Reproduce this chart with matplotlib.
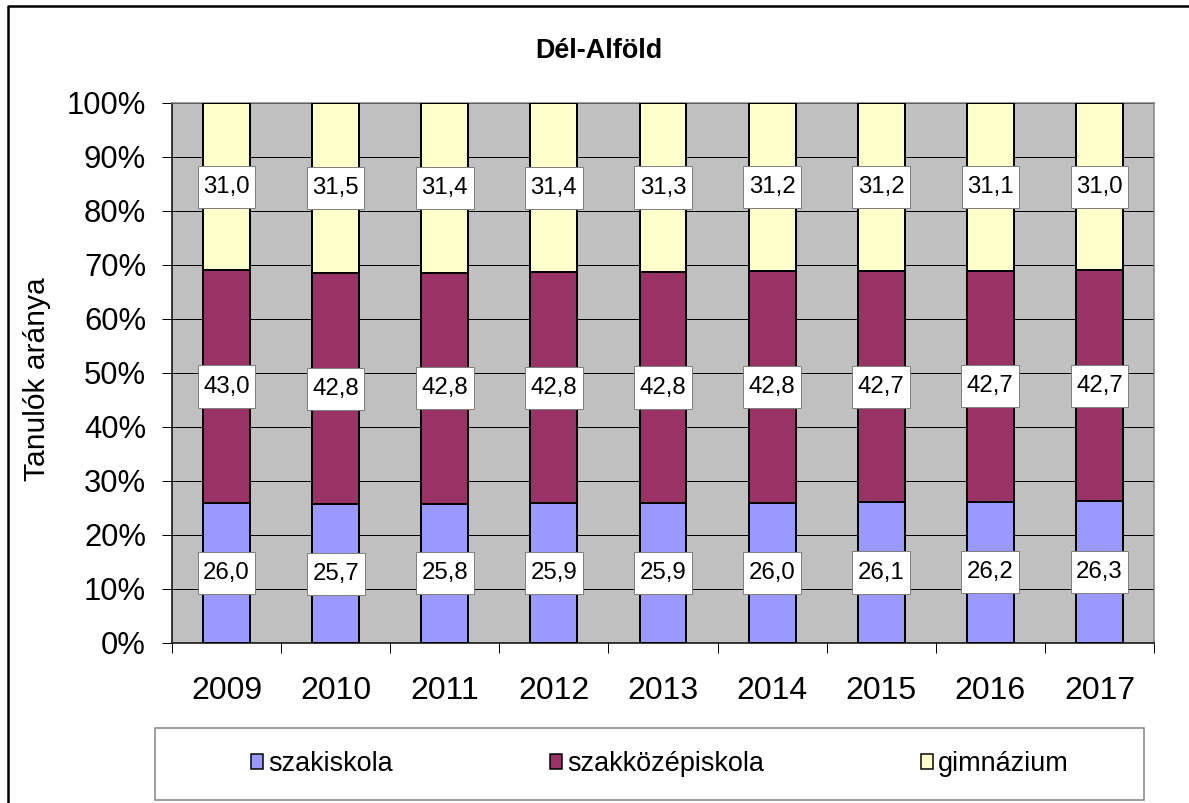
#Dél-Alföld stacked share chart

#module imports
import numpy as np
import matplotlib.pyplot as plt
from matplotlib.patches import Rectangle, Patch
from matplotlib.lines import Line2D
from matplotlib.path import Path
from matplotlib.ticker import FuncFormatter

#Inputs
years = ['2009', '2010', '2011', '2012', '2013', '2014', '2015', '2016', '2017']
szakiskola = [26.0, 25.7, 25.8, 25.9, 25.9, 26.0, 26.1, 26.2, 26.3]
szakkozep = [43.0, 42.8, 42.8, 42.8, 42.8, 42.8, 42.7, 42.7, 42.7]
gimnazium = [31.0, 31.5, 31.4, 31.4, 31.3, 31.2, 31.2, 31.1, 31.0]
series_names = ['szakiskola', 'szakközépiskola', 'gimnázium']
colors = ['#9999FF', '#993366', '#FFFFCC']

#Constants
W, H = 1189, 803
DPI = 72
plt.rcParams['font.family'] = ['Liberation Sans', 'DejaVu Sans']

def fx(px) ->float:
    return px / W

def fy(py) ->float:
    return 1 - py / H

def label_box(x0, y0, width, height, mutation_size):
    #wider vertical padding than horizontal, like the spreadsheet labels
    px = 0.23 * mutation_size
    py = 0.42 * mutation_size
    x0, y0 = x0 - px, y0 - py
    x1, y1 = x0 + width + 2 * px, y0 + height + 2 * py
    return Path([(x0, y0), (x1, y0), (x1, y1), (x0, y1), (x0, y0)], closed=True)


if __name__ == "__main__":
    fig = plt.figure(figsize=(W / DPI, H / DPI), dpi=DPI)

    ax = fig.add_axes([fx(172), fy(643), fx(1154) - fx(172), fy(103) - fy(643)])
    ax.set_facecolor('#C0C0C0')

    x = np.arange(len(years))
    data = [np.array(szakiskola), np.array(szakkozep), np.array(gimnazium)]
    totals = data[0] + data[1] + data[2]
    bottom = np.zeros(len(years))
    for vals, col, name in zip(data, colors, series_names):
        share = vals / totals * 100
        ax.bar(x, share, width=0.43, bottom=bottom, color=col,
               edgecolor='black', linewidth=2, zorder=3, label=name)
        for xi, b, s, v in zip(x, bottom, share, vals):
            ax.text(xi, b + s / 2, f'{v:.1f}'.replace('.', ','), ha='center', va='center',
                    fontsize=24, zorder=5,
                    bbox=dict(boxstyle=label_box, facecolor='white',
                              edgecolor='#808080', linewidth=1))
        bottom = bottom + share

    ax.set_xlim(-0.5, len(years) - 0.5)
    ax.set_ylim(0, 100)
    ax.set_yticks(np.arange(0, 101, 10))
    ax.yaxis.set_major_formatter(FuncFormatter(lambda v, p: f'{v:.0f}%'))
    ax.yaxis.grid(True, color='black', linewidth=1)
    ax.set_axisbelow(True)
    ax.tick_params(axis='y', length=10, width=1, pad=16, labelsize=31, direction='out')

    ax.set_xticks(x)
    ax.set_xticklabels(years)
    ax.set_xticks(np.arange(-0.5, len(years), 1), minor=True)
    ax.tick_params(axis='x', which='major', length=0, pad=33, labelsize=32)
    ax.tick_params(axis='x', which='minor', length=10, width=1, direction='out')

    ax.spines['left'].set_color('black')
    ax.spines['bottom'].set_color('black')
    ax.spines['top'].set_color('#808080')
    ax.spines['right'].set_color('#808080')
    for s in ax.spines.values():
        s.set_linewidth(1.5)

    fig.text(fx(599), fy(58), 'Dél-Alföld', ha='center', va='baseline',
             fontsize=27, fontweight='bold')
    fig.text(fx(37), fy(379), 'Tanulók aránya', ha='center', va='center',
             rotation=90, fontsize=30)

    #legend box
    fig.add_artist(Rectangle((fx(155), fy(800)), fx(1144) - fx(155), fy(728) - fy(800),
                             transform=fig.transFigure, facecolor='white',
                             edgecolor='#808080', linewidth=1.5))
    handles = [Patch(facecolor=c, edgecolor='black', linewidth=1.5) for c in colors]
    fig.legend(handles, series_names, loc='center', ncol=3,
               bbox_to_anchor=(fx(660), fy(764)), frameon=False, fontsize=27,
               handlelength=0.45, handleheight=0.45, handletextpad=0.2,
               columnspacing=5.8)

    #outer frame
    fig.add_artist(Line2D([fx(8), fx(8), 1], [0, fy(6), fy(6)],
                          transform=fig.transFigure, color='black', linewidth=2.5))

    fig.savefig('out.png', dpi=DPI)
